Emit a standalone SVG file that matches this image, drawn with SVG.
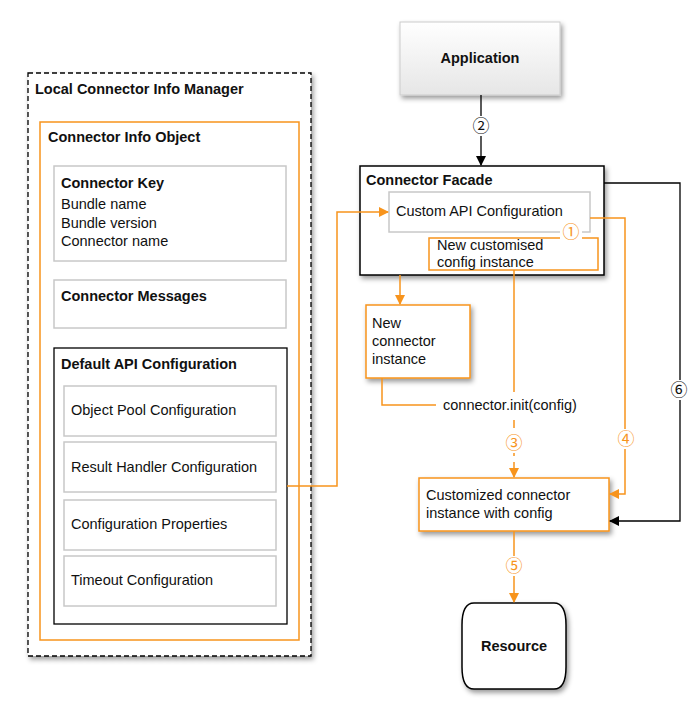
<svg xmlns="http://www.w3.org/2000/svg" width="700" height="723" viewBox="0 0 700 723">
<defs>
<marker id="ao" markerWidth="10" markerHeight="10" refX="9" refY="5" orient="auto" markerUnits="userSpaceOnUse"><path d="M0,0 L10,5 L0,10 Z" fill="#f7941d"/></marker>
<marker id="ab" markerWidth="10" markerHeight="10" refX="9" refY="5" orient="auto" markerUnits="userSpaceOnUse"><path d="M0,0 L10,5 L0,10 Z" fill="#000"/></marker>
<linearGradient id="g" x1="0" y1="0" x2="0" y2="1"><stop offset="0" stop-color="#ffffff"/><stop offset="1" stop-color="#e6e6e6"/></linearGradient>
<filter id="sh" x="-20%" y="-20%" width="150%" height="150%"><feDropShadow dx="2" dy="3" stdDeviation="2.5" flood-color="#000" flood-opacity="0.4"/></filter>
</defs>
<style>
text{font-family:"Liberation Sans",Arial,sans-serif;font-size:14.5px;fill:#111}
.b{font-weight:bold}
.o{fill:none;stroke:#f7941d;stroke-width:1.5}
.k{fill:none;stroke:#000;stroke-width:1.3}
.gray{fill:#fff;stroke:#c8c8c8;stroke-width:1.5}
.num{font-family:"Noto Sans CJK SC","DejaVu Sans",sans-serif;font-size:17px;text-anchor:middle;font-weight:normal}
.on{fill:#f7941d}
</style>
<rect width="700" height="723" fill="#fff"/>
<g id="manager">
<rect x="28" y="73" width="283" height="583" fill="#fff" stroke="#000" stroke-width="1.3" stroke-dasharray="5,3" filter="url(#sh)"/>
<text x="35" y="94" class="b">Local Connector Info Manager</text>
</g>
<g id="infoObject">
<rect x="40" y="122" width="259" height="518" class="o"/>
<text x="48" y="142" class="b">Connector Info Object</text>
</g>
<g id="connectorKey">
<rect x="54" y="166" width="232" height="95" class="gray"/>
<text x="61" y="188" class="b">Connector Key</text>
<text x="61" y="209">Bundle name</text>
<text x="61" y="228">Bundle version</text>
<text x="61" y="246">Connector name</text>
</g>
<g id="connectorMessages">
<rect x="54" y="280" width="232" height="48" class="gray"/>
<text x="61" y="301" class="b">Connector Messages</text>
</g>
<g id="defaultApi">
<rect x="54" y="348" width="233" height="276" fill="#fff" stroke="#000" stroke-width="1.3"/>
<text x="61" y="369" class="b">Default API Configuration</text>
</g>
<g id="objectPool"><rect x="64" y="386" width="212" height="50" class="gray"/><text x="71" y="415">Object Pool Configuration</text></g>
<g id="resultHandler"><rect x="64" y="442" width="212" height="50" class="gray"/><text x="71" y="472">Result Handler Configuration</text></g>
<g id="configProps"><rect x="64" y="500" width="212" height="50" class="gray"/><text x="71" y="529">Configuration Properties</text></g>
<g id="timeout"><rect x="64" y="556" width="212" height="50" class="gray"/><text x="71" y="585">Timeout Configuration</text></g>
<g id="application">
<rect x="400" y="22" width="160" height="73" fill="url(#g)" stroke="#ccc" filter="url(#sh)"/>
<text x="480" y="63" class="b" text-anchor="middle">Application</text>
</g>
<g id="facade">
<rect x="360" y="166" width="244" height="109" fill="#fff" stroke="#000" stroke-width="1.5" filter="url(#sh)"/>
<text x="366" y="185" class="b">Connector Facade</text>
</g>
<g id="customApi">
<rect x="389" y="192" width="201" height="40" class="gray"/>
<text x="396" y="216">Custom API Configuration</text>
</g>
<g id="newConfig">
<rect x="429" y="238" width="169" height="32" fill="#fff" class="o"/>
<text x="437" y="250">New customised</text>
<text x="437" y="267">config instance</text>
</g>
<g id="newConnector">
<rect x="366" y="305" width="104" height="73" fill="#fff" stroke="#f7941d" stroke-width="1.5" filter="url(#sh)"/>
<text x="372" y="328">New</text>
<text x="372" y="346">connector</text>
<text x="372" y="364">instance</text>
</g>
<g id="customized">
<rect x="419" y="478" width="190" height="53" fill="#fff" stroke="#f7941d" stroke-width="1.5" filter="url(#sh)"/>
<text x="426" y="500">Customized connector</text>
<text x="426" y="518">instance with config</text>
</g>
<g id="resource">
<path d="M474,603 H554 Q566,603 566,625 V667 Q566,689 554,689 H474 Q462,689 462,667 V625 Q462,603 474,603 Z" fill="#fff" stroke="#000" stroke-width="1.5" filter="url(#sh)"/>
<text x="514" y="651" class="b" text-anchor="middle">Resource</text>
</g>
<g id="connectors">
<path d="M481,95 V165" class="k" marker-end="url(#ab)"/>
<rect x="470" y="116" width="22" height="20" fill="#fff"/>
<text x="481" y="132" class="num">②</text>
<path d="M604,183 H680 V521 H610" class="k" marker-end="url(#ab)"/>
<rect x="669" y="380" width="22" height="20" fill="#fff"/>
<text x="679" y="396" class="num">⑥</text>
<path d="M287,486 H337 V212 H388" class="o" marker-end="url(#ao)"/>
<path d="M590,218 H625 V494 H610" class="o" marker-end="url(#ao)"/>
<rect x="615" y="429" width="22" height="20" fill="#fff"/>
<text x="626" y="445" class="num on">④</text>
<path d="M400,275 V304" class="o" marker-end="url(#ao)"/>
<path d="M514,270 V392" class="o"/>
<path d="M514,420 V477" class="o" stroke-dasharray="8,6" marker-end="url(#ao)"/>
<rect x="503" y="433" width="22" height="20" fill="#fff"/>
<text x="514" y="449" class="num on">③</text>
<path d="M382,378 V405 H436" class="o"/>
<text x="443" y="410">connector.init(config)</text>
<rect x="560" y="223" width="22" height="20" fill="#fff"/>
<text x="571" y="238" class="num on">①</text>
<path d="M514,531 V602" class="o" marker-end="url(#ao)"/>
<rect x="503" y="556" width="22" height="20" fill="#fff"/>
<text x="514" y="572" class="num on">⑤</text>
</g>
</svg>
